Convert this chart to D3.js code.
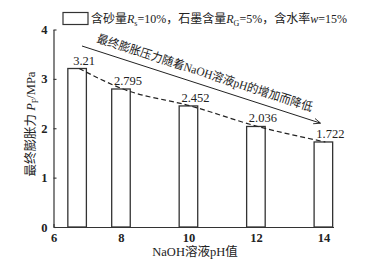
<!DOCTYPE html>
<html>
<head>
<meta charset="utf-8">
<script src="https://cdn.jsdelivr.net/npm/d3@7"></script>
<style>
  body { margin: 0; background: #fff; }
  svg text { font-family: "Liberation Serif", "Noto Sans CJK SC", serif; fill: #222; }
</style>
</head>
<body>
<svg id="chart" width="376" height="263"></svg>
<script>
// pH of NaOH solution and final swelling pressure (MPa)
const phValues = [6.7, 8, 10, 12, 14];
const pressure = [3.21, 2.795, 2.452, 2.036, 1.722];
const pressureLabels = ["3.21", "2.795", "2.452", "2.036", "1.722"];
const xTicks = [6, 8, 10, 12, 14];
const yTicks = [0, 1, 2, 3, 4];

const svg = d3.select("#chart");
const ink = "#333";

const x = d3.scaleLinear().domain([6, 14.3]).range([53.5, 333.5]);
const y = d3.scaleLinear().domain([0, 4]).range([227, 29.5]);
const barW = x(6.55) - x(6);

// axes
const xAxis = svg.append("g")
  .attr("transform", `translate(0,${y(0)})`)
  .call(d3.axisBottom(x).tickValues(xTicks).tickFormat(d3.format("d")).tickSize(-3).tickPadding(6).tickSizeOuter(0));
const yAxis = svg.append("g")
  .attr("transform", `translate(${x(6)},0)`)
  .call(d3.axisLeft(y).tickValues(yTicks).tickFormat(d3.format("d")).tickSize(-3).tickPadding(6).tickSizeOuter(0));
[xAxis, yAxis].forEach(g => {
  g.select(".domain").attr("stroke", ink).attr("stroke-width", 1.2);
  g.selectAll(".tick line").attr("stroke", ink).attr("stroke-width", 1.1);
  g.selectAll(".tick text").attr("font-size", 12.5).attr("font-weight", "bold")
    .attr("font-family", "Liberation Serif").attr("fill", "#222");
});

// bars
svg.append("g").selectAll("rect")
  .data(phValues)
  .join("rect")
  .attr("x", (d) => x(d) - barW / 2)
  .attr("y", (d, i) => y(pressure[i]))
  .attr("width", barW)
  .attr("height", (d, i) => y(0) - y(pressure[i]))
  .attr("fill", "#fff")
  .attr("stroke", ink)
  .attr("stroke-width", 1.3);

// value labels
svg.append("g").selectAll("text")
  .data(phValues)
  .join("text")
  .attr("x", (d) => x(d) + 7)
  .attr("y", (d, i) => y(pressure[i]) - 4)
  .attr("text-anchor", "middle")
  .attr("font-size", 12.5)
  .text((d, i) => pressureLabels[i]);

// dashed trend curve through bar tops
const trend = d3.line()
  .x((d) => x(d) + 2)
  .y((d, i) => y(pressure[i]))
  .curve(d3.curveMonotoneX);
svg.append("path")
  .datum(phValues)
  .attr("d", trend)
  .attr("fill", "none")
  .attr("stroke", "#222")
  .attr("stroke-width", 1.2)
  .attr("stroke-dasharray", "5,3");

// annotation arrow and text
const defs = svg.append("defs");
defs.append("marker")
  .attr("id", "arrow")
  .attr("viewBox", "0 0 10 10")
  .attr("refX", 9).attr("refY", 5)
  .attr("markerWidth", 7).attr("markerHeight", 7)
  .attr("orient", "auto")
  .append("path")
  .attr("d", "M0,1 L10,5 L0,9")
  .attr("fill", "none")
  .attr("stroke", "#222")
  .attr("stroke-width", 1.2);

svg.append("line")
  .attr("x1", 82).attr("y1", 46)
  .attr("x2", 320).attr("y2", 123)
  .attr("stroke", "#222")
  .attr("stroke-width", 1)
  .attr("marker-end", "url(#arrow)");

svg.append("text")
  .attr("transform", "translate(96,42) rotate(17.9)")
  .attr("font-size", 12)
  .attr("textLength", 226)
  .attr("lengthAdjust", "spacingAndGlyphs")
  .text("最终膨胀压力随着NaOH溶液pH的增加而降低");

// legend
svg.append("rect")
  .attr("x", 63).attr("y", 12.5)
  .attr("width", 25).attr("height", 12)
  .attr("fill", "#fff")
  .attr("stroke", ink)
  .attr("stroke-width", 1.2);

const legend = svg.append("text")
  .attr("x", 91).attr("y", 23)
  .attr("font-size", 12);
legend.append("tspan").text("含砂量");
legend.append("tspan").attr("font-style", "italic").text("R");
legend.append("tspan").attr("font-size", 8).attr("dy", 3).text("s");
legend.append("tspan").attr("dy", -3).text("=10%，石墨含量");
legend.append("tspan").attr("font-style", "italic").text("R");
legend.append("tspan").attr("font-size", 8).attr("dy", 3).text("G");
legend.append("tspan").attr("dy", -3).text("=5%，含水率");
legend.append("tspan").attr("font-style", "italic").text("w");
legend.append("tspan").text("=15%");

// axis titles
svg.append("text")
  .attr("x", 195)
  .attr("y", 256)
  .attr("text-anchor", "middle")
  .attr("font-size", 12.5)
  .text("NaOH溶液pH值");

const yTitle = svg.append("text")
  .attr("transform", `translate(35,124) rotate(-90)`)
  .attr("text-anchor", "middle")
  .attr("font-size", 12.5);
yTitle.append("tspan").text("最终膨胀力 ");
yTitle.append("tspan").attr("font-style", "italic").text("P");
yTitle.append("tspan").attr("font-size", 8).attr("dy", 3).text("F");
yTitle.append("tspan").attr("dy", -3).text("/MPa");
</script>
</body>
</html>
